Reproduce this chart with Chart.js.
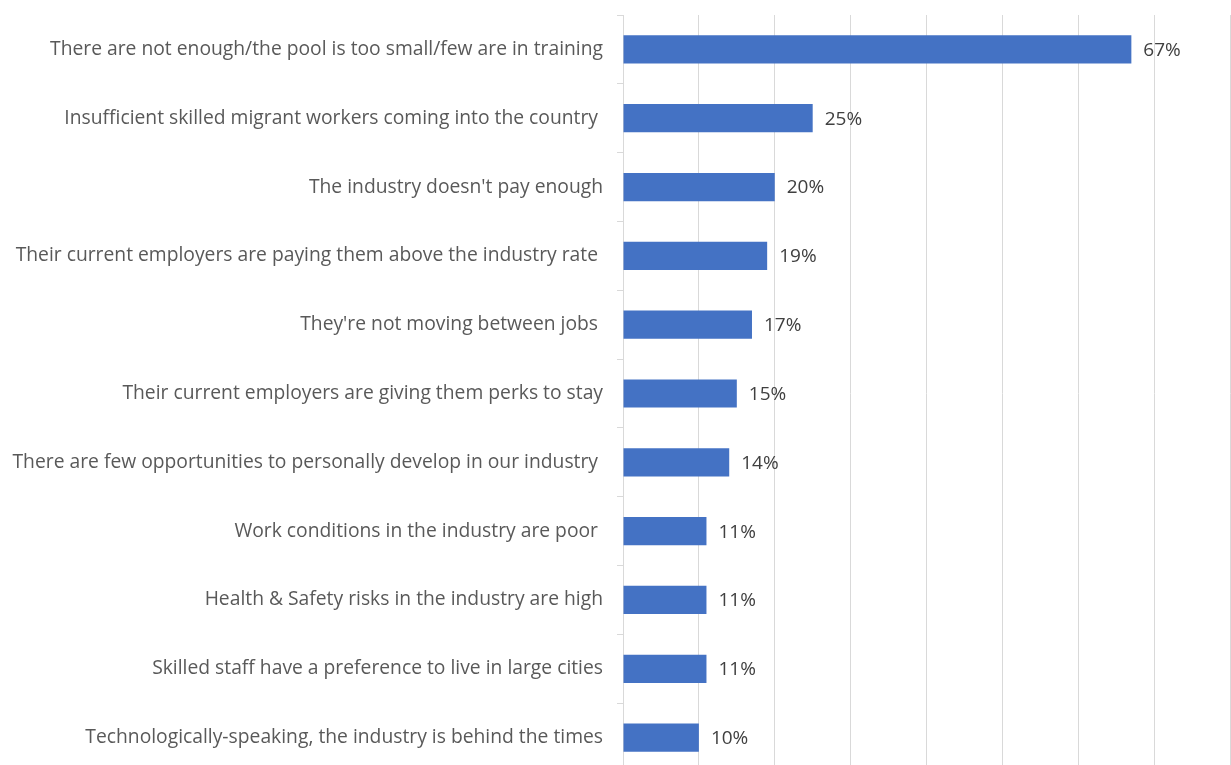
<!DOCTYPE html>
<html>
<head>
<meta charset="utf-8">
<script src="https://cdn.jsdelivr.net/npm/chart.js@4"></script>
<style>
  html, body { margin: 0; padding: 0; background: #fff; overflow: hidden; }
  #wrap { width: 1231px; height: 772px; position: relative; }
</style>
</head>
<body>
<div id="wrap"><canvas id="reasonsChart"></canvas></div>
<script>
const reasons = [
    'There are not enough/the pool is too small/few are in training',
    'Insufficient skilled migrant workers coming into the country ',
    "The industry doesn't pay enough",
    'Their current employers are paying them above the industry rate ',
    "They're not moving between jobs ",
    'Their current employers are giving them perks to stay',
    'There are few opportunities to personally develop in our industry ',
    'Work conditions in the industry are poor ',
    'Health & Safety risks in the industry are high',
    'Skilled staff have a preference to live in large cities',
    'Technologically-speaking, the industry is behind the times'
];
const shares = [67, 25, 20, 19, 17, 15, 14, 11, 11, 11, 10];

const FONT = '"Open Sans", Lato, sans-serif';

// percentage text just past the end of each bar
const barLabels = {
    id: 'barLabels',
    afterDatasetsDraw(chart) {
        const ctx = chart.ctx;
        const meta = chart.getDatasetMeta(0);
        ctx.save();
        ctx.font = '19px ' + FONT;
        ctx.fillStyle = '#404040';
        ctx.textAlign = 'left';
        ctx.textBaseline = 'middle';
        meta.data.forEach((bar, i) => {
            ctx.fillText(shares[i] + '%', bar.x + 12, bar.y + 1);
        });
        ctx.restore();
    }
};

new Chart(document.getElementById('reasonsChart').getContext('2d'), {
    type: 'bar',
    data: {
        labels: reasons,
        datasets: [{
            data: shares,
            backgroundColor: '#4472C4',
            borderWidth: 0,
            barPercentage: 0.41,
            categoryPercentage: 1
        }]
    },
    options: {
        indexAxis: 'y',
        responsive: true,
        maintainAspectRatio: false,
        animation: false,
        layout: { padding: { top: 15, right: 1, bottom: 0, left: 0 } },
        plugins: { legend: { display: false }, tooltip: { enabled: false } },
        scales: {
            x: {
                min: 0, max: 80,
                ticks: { display: false, stepSize: 10 },
                grid: { color: '#d9d9d9', drawTicks: false },
                border: { display: false },
                afterFit(scale) { scale.height = 0; }
            },
            y: {
                grid: { drawOnChartArea: false, drawTicks: true, tickLength: 6, color: '#d9d9d9', offset: true },
                border: { display: true, color: '#d9d9d9' },
                ticks: { color: '#595959', font: { family: FONT, size: 19.3 }, padding: 14, autoSkip: false },
                afterFit(scale) {
                    scale.width = 623;
                    scale.paddingTop = 0;
                    scale.paddingBottom = 0;
                }
            }
        }
    },
    plugins: [barLabels]
});
</script>
</body>
</html>
